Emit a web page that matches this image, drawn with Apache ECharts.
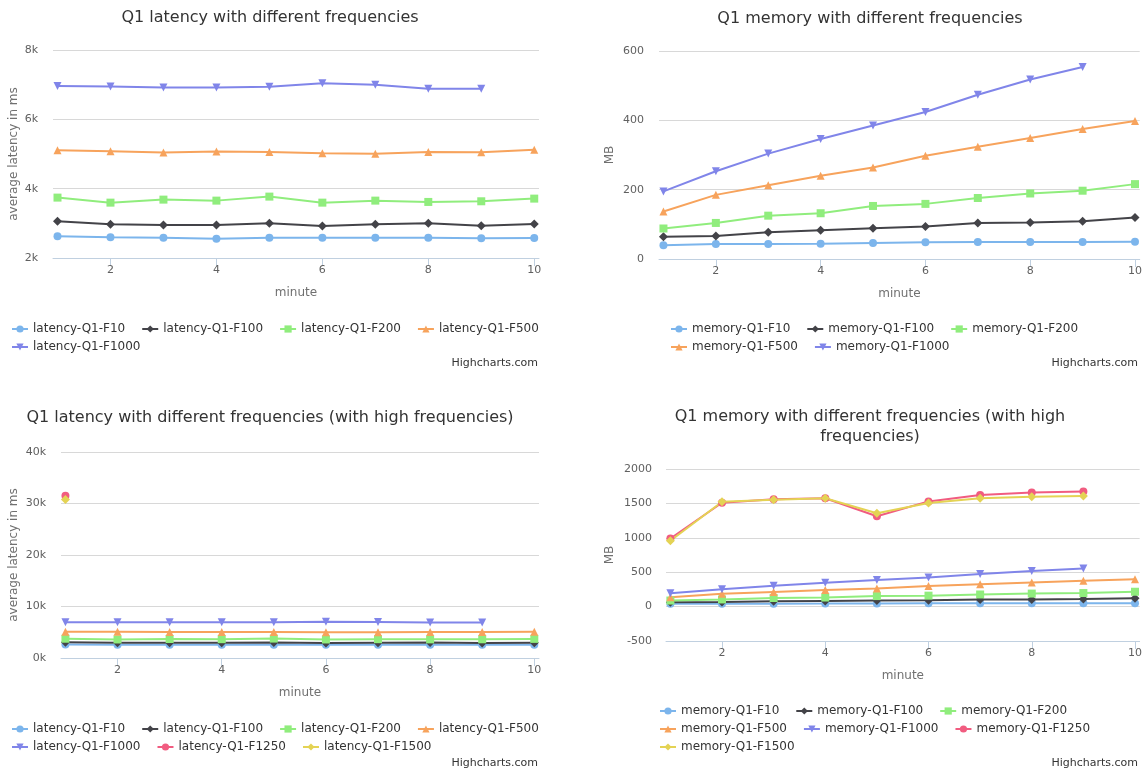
<!DOCTYPE html>
<html>
<head>
<meta charset="utf-8">
<script src="https://cdn.jsdelivr.net/npm/echarts@6/dist/echarts.min.js"></script>
<style>
html,body{margin:0;padding:0;background:#fff;}
#c{width:1145px;height:773px;}
</style>
</head>
<body>
<div id="c"></div>
<script>
// ---- data ----
const minutes = [1, 2, 3, 4, 5, 6, 7, 8, 9, 10];
const latencyF10   = [2624, 2595, 2586, 2557, 2586, 2586, 2586, 2586, 2567, 2576];
const latencyF100  = [3058, 2971, 2952, 2952, 3000, 2923, 2971, 3000, 2932, 2981];
const latencyF200  = [3742, 3597, 3684, 3655, 3771, 3597, 3655, 3617, 3636, 3713];
const latencyF500  = [5110, 5080, 5040, 5070, 5060, 5020, 5010, 5060, 5050, 5120];
const latencyF1000 = [6960, 6950, 6920, 6920, 6940, 7040, 7000, 6880, 6880];
const latencyF1250 = [31500];
const latencyF1500 = [30800];
const memoryF10   = [40, 43, 43, 44, 46, 48, 49, 49, 49, 50];
const memoryF100  = [64, 66, 77, 83, 89, 94, 104, 105, 109, 120];
const memoryF200  = [88, 104, 125, 132, 153, 159, 176, 189, 197, 216];
const memoryF500  = [137, 185, 213, 240, 264, 298, 324, 349, 375, 398];
const memoryF1000 = [195, 253, 304, 346, 385, 424, 474, 518, 554];
const memoryF1250 = [990, 1510, 1559, 1574, 1314, 1529, 1623, 1657, 1672];
const memoryF1500 = [956, 1525, 1554, 1574, 1358, 1505, 1574, 1598, 1608];
const xTickLabels = [2, 4, 6, 8, 10];

// ---- styling ----
const FONT = 'DejaVu Sans';
const styles = [
  {color: '#7cb5ec', symbol: 'circle', rot: 0},
  {color: '#434348', symbol: 'diamond', rot: 0},
  {color: '#90ed7d', symbol: 'rect', rot: 0},
  {color: '#f7a35c', symbol: 'triangle', rot: 0},
  {color: '#8085e9', symbol: 'triangle', rot: 180},
  {color: '#f15c80', symbol: 'circle', rot: 0},
  {color: '#e4d354', symbol: 'diamond', rot: 0}
];
const freqs = ['F10', 'F100', 'F200', 'F500', 'F1000', 'F1250', 'F1500'];
const latencySets = [latencyF10, latencyF100, latencyF200, latencyF500, latencyF1000, latencyF1250, latencyF1500];
const memorySets = [memoryF10, memoryF100, memoryF200, memoryF500, memoryF1000, memoryF1250, memoryF1500];

function pairs(vals) { return vals.map((v, i) => [minutes[i], v]); }

const grids = [
  {left: 53, top: 50, width: 486, height: 208},
  {left: 659, top: 51, width: 483, height: 208},
  {left: 61, top: 452, width: 478, height: 206},
  {left: 666, top: 469, width: 476, height: 172}
];

function xAxis(i) {
  return {
    type: 'value', gridIndex: i, min: 0.915, max: 10.09,
    name: 'minute', nameLocation: 'middle', nameGap: 29,
    nameTextStyle: {color: '#707070', fontSize: 12, fontFamily: FONT},
    axisLine: {show: true, onZero: false, lineStyle: {color: '#C0D0E0', width: 1}},
    axisTick: {show: true, length: 8, lineStyle: {color: '#C0D0E0'}, customValues: xTickLabels},
    axisLabel: {color: '#606060', fontSize: 11, fontFamily: FONT, margin: 7, customValues: xTickLabels},
    splitLine: {show: false}
  };
}
const plainFmt = v => String(v);
const kFmt = v => (v / 1000) + 'k';
function yAxis(i, opt, fmt, margin) {
  return Object.assign({
    type: 'value', gridIndex: i,
    nameLocation: 'middle', nameRotate: 90,
    nameTextStyle: {color: '#707070', fontSize: 12, fontFamily: FONT},
    axisLine: {show: false}, axisTick: {show: false},
    axisLabel: {color: '#606060', fontSize: 11, fontFamily: FONT, margin: margin, formatter: fmt},
    splitLine: {show: true, lineStyle: {color: '#D8D8D8', width: 1}}
  }, opt);
}

const series = [];
function addSeries(prefix, sets, count, gi) {
  for (let k = 0; k < count; k++) {
    const st = styles[k];
    series.push({
      type: 'line', name: prefix + '-Q1-' + freqs[k],
      xAxisIndex: gi, yAxisIndex: gi,
      data: pairs(sets[k]),
      symbol: st.symbol, symbolRotate: st.rot,
      symbolSize: st.symbol === 'diamond' ? 9 : 8,
      showAllSymbol: true,
      lineStyle: {color: st.color, width: 2},
      itemStyle: {color: st.color},
      emphasis: {disabled: true},
      animation: false
    });
  }
}
addSeries('latency', latencySets, 5, 0);
addSeries('memory', memorySets, 5, 1);
addSeries('latency', latencySets, 7, 2);
addSeries('memory', memorySets, 7, 3);

const latNames = freqs.map(f => 'latency-Q1-' + f);
const memNames = freqs.map(f => 'memory-Q1-' + f);

function legend(names, left, top, width) {
  return {
    data: names, left: left, top: top, width: width, orient: 'horizontal',
    itemWidth: 16, itemHeight: 9, itemGap: 2, selectedMode: false,
    padding: 0,
    textStyle: {color: '#333333', fontSize: 12, fontFamily: FONT, lineHeight: 16, padding: [0, 14, 0, 0]}
  };
}
const titleStyle = {color: '#333333', fontSize: 16, fontWeight: 'normal', fontFamily: FONT, lineHeight: 20};

const option = {
  backgroundColor: '#ffffff',
  animation: false,
  title: [
    {text: 'Q1 latency with different frequencies', left: 270, top: 8, textAlign: 'center', textStyle: titleStyle, padding: 0},
    {text: 'Q1 memory with different frequencies', left: 870, top: 9, textAlign: 'center', textStyle: titleStyle, padding: 0},
    {text: 'Q1 latency with different frequencies (with high frequencies)', left: 270, top: 408, textAlign: 'center', textStyle: titleStyle, padding: 0},
    {text: 'Q1 memory with different frequencies (with high\nfrequencies)', left: 870, top: 407, textAlign: 'center', textStyle: titleStyle, padding: 0}
  ],
  grid: grids,
  xAxis: [xAxis(0), xAxis(1), xAxis(2), xAxis(3)],
  yAxis: [
    yAxis(0, {min: 2000, max: 8000, interval: 2000, name: 'average latency in ms', nameGap: 33}, kFmt, 15),
    yAxis(1, {min: 0, max: 600, interval: 200, name: 'MB', nameGap: 43}, plainFmt, 15),
    yAxis(2, {min: 0, max: 40000, interval: 10000, name: 'average latency in ms', nameGap: 41}, kFmt, 15),
    yAxis(3, {min: -500, max: 2000, interval: 500, name: 'MB', nameGap: 50}, plainFmt, 14)
  ],
  legend: [
    legend(latNames.slice(0, 5), 11, 321, 575),
    legend(memNames.slice(0, 5), 670, 321, 430),
    legend(latNames, 11, 721, 575),
    legend(memNames, 659, 703, 450)
  ],
  graphic: [
    {type: 'text', right: 1145 - 538, top: 358, style: {text: 'Highcharts.com', fontSize: 11, fontFamily: FONT, fill: '#333333'}},
    {type: 'text', right: 1145 - 1138, top: 358, style: {text: 'Highcharts.com', fontSize: 11, fontFamily: FONT, fill: '#333333'}},
    {type: 'text', right: 1145 - 538, top: 758, style: {text: 'Highcharts.com', fontSize: 11, fontFamily: FONT, fill: '#333333'}},
    {type: 'text', right: 1145 - 1138, top: 758, style: {text: 'Highcharts.com', fontSize: 11, fontFamily: FONT, fill: '#333333'}}
  ],
  series: series
};

const chart = echarts.init(document.getElementById('c'), null, {renderer: 'canvas'});
chart.setOption(option);
</script>
</body>
</html>
